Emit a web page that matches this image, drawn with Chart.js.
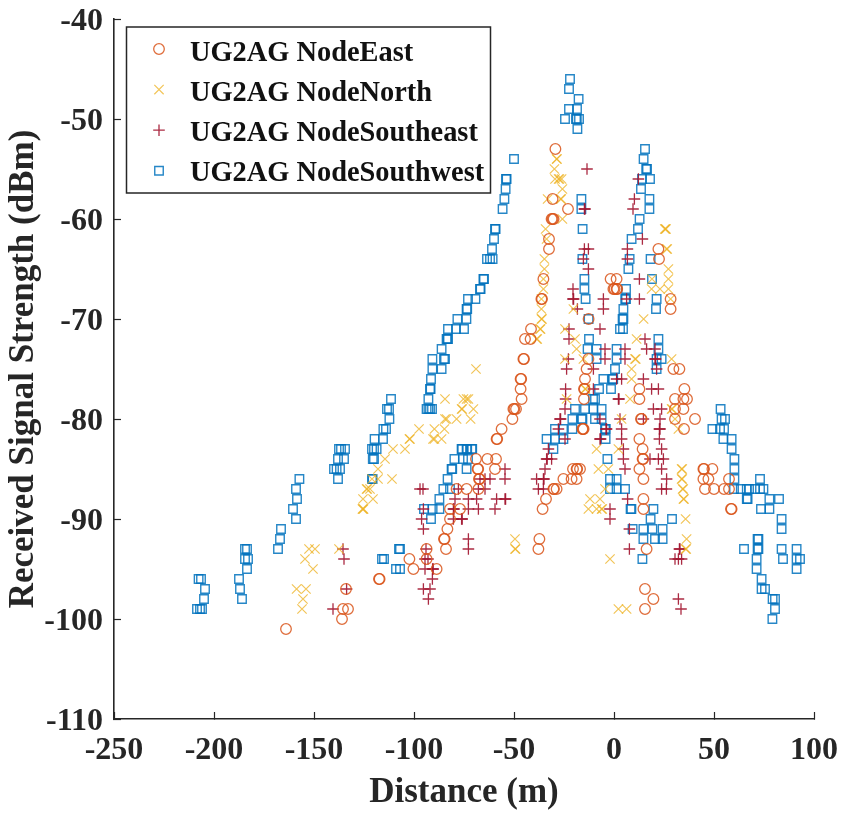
<!DOCTYPE html>
<html>
<head>
<meta charset="utf-8">
<style>
html,body{margin:0;padding:0;background:#fff;width:845px;height:815px;overflow:hidden}
canvas{display:block;filter:blur(0.35px)}
</style>
<script src="https://cdn.jsdelivr.net/npm/chart.js@4"></script>
</head>
<body>
<canvas id="c" width="845" height="815"></canvas>
<script>
const xTicks=[-250,-200,-150,-100,-50,0,50,100];
const yTicks=[-110,-100,-90,-80,-70,-60,-50,-40];
const seriesNames=["UG2AG NodeEast","UG2AG NodeNorth","UG2AG NodeSoutheast","UG2AG NodeSouthwest"];
// each row: [received signal strength, [distances]]
const nodeEast=[
[-53,[-29.3]],[-58,[-30.7]],[-59,[-23]],[-60,[-30.7,-30.2,-31.2]],[-62,[-32.5]],[-63,[-32.5,22.2]],[-64,[22.5]],
[-66,[-35.3,-1.7,1.3]],[-67,[-0.3,0.3,1.3,1.6]],[-68,[-36.3,-36,28.3]],[-69,[28.3]],[-70,[-12.7]],[-71,[-41.5]],
[-72,[-44.5,-41.7]],[-74,[-45.3,-45,-12.8]],[-75,[-13.7,29.7,32.7]],[-76,[-46.7,-46.4,-14.5]],[-77,[-46.7,-15,-14.7,12.7,35.2]],
[-78,[-46.2,-15,12.7,30.5,34.7,36.5]],[-79,[-50.3,-49.8,-49,30.5,34.7]],[-80,[-50.8,13.5,13.8,30.5,40.5]],[-81,[-56.2,-15.8,-15.5,-15.2,35]],
[-82,[-58.7,-58.4,12.7]],[-83,[14.3]],[-84,[-69,-63.3,-59,14.3,14.6]],[-85,[-68.2,-67.9,-59.5,-20.5,-18.7,-18.4,-17,12.7,44.7,45,49.2]],
[-86,[-67.5,-67.2,-25.3,-21.2,-18.7,14.7,44.7,47.2,57.5]],[-87,[-78.7,-73.7,-67.8,-30.3,-30,-28.7,45.5,50,55,57.5]],[-88,[-34,14.7]],
[-89,[-82,-77,-35.7,14.7,58.5,58.8]],[-90,[-82]],[-91,[-83.3]],[-92,[-85,-84.7,-37.3]],[-93,[-93.7,-84,-37.8,16.3]],[-94,[-102.3,-93.7]],
[-95,[-100.3,-88.7]],[-96,[-117.5,-117.2]],[-97,[-134,15.5]],[-98,[19.7]],[-99,[-135.5,-133,15.5]],[-100,[-136]],[-101,[-164]]
];
const nodeNorth=[
[-54,[-28.7,-28.5]],[-55,[-29.8]],[-56,[-29.5,-27.7,-26.2,-27.3]],[-57,[-25.8]],[-58,[-33.2,-26.7,-26.4]],[-60,[-25.8]],[-61,[-34.2,25.7,25.4,26]],
[-62,[-33.7]],[-63,[26.3,26.6]],[-64,[-34.8]],[-65,[-34.8,27.2]],[-66,[-35.3,19,27.2]],[-67,[-35.3,18.8,23,27.2]],[-68,[-36.3,28.3]],[-69,[-36.3,-20.3]],
[-70,[-36.3,-36,14.8]],[-71,[-37,-36.7,-24.5]],[-72,[-38.7,-38.4,-19.5,11.3]],[-73,[-18.7]],[-74,[-24.5,-15.3,10.5,10.9,28.8]],[-75,[-69,8.8]],[-76,[8.8]],
[-77,[-14.5,-14.2]],[-78,[-84.5,-75.3,-73.7,-72.8,-23.7,8]],[-79,[-76.2,-75.9,-70.3,28.8,29.1]],[-80,[-84.5,-83.7,-78.7,-71.7,3.8,30.5]],
[-81,[-97.5,-89.8,-84.8,32.2]],[-82,[-102.3,-102,-90.5,-89.8,-86.2]],[-83,[-110.5,-104.5,-8.7,2.2]],[-84,[-114.5]],[-85,[-118,-7.8,-2.8,33.8,34.1]],
[-86,[-121,-118,-111,33.8,34.1]],[-87,[-123.7,-123.4,-122,-4.5,34.3,34.6]],[-88,[-125.5,-120.5,-12,-7,34.7,35]],[-89,[-125.5,-125.2,-125.8,-12.8,-8.7,-6.2,-5.9]],
[-90,[35.8]],[-92,[-49.5,36.3]],[-93,[-152.5,-149.5,-137.5,-49.5,-49.2,35.8,36.1]],[-94,[-154.5,-2]],[-95,[-150.5]],[-97,[-158.7,-154]],[-98,[-155.5]],[-99,[-156,2.2,6.3]]
];
const nodeSoutheast=[
[-55,[-13.5]],[-56,[12.2]],[-58,[10.2]],[-59,[9.5,-14.8,-14.5]],[-62,[14.2]],[-63,[-14.8,-12.8,6.7]],[-64,[-15.3,6.7]],[-65,[-12.8]],[-66,[12.7]],
[-67,[-20.5]],[-68,[-20.5,-20.2,-5.3,6.3,12.7]],[-69,[-18.3,-5.3]],[-71,[-22.5,-7]],[-72,[-22.5,15.5]],[-73,[-4.5,5.5,16.3,20.5]],[-74,[-22.8,-4.5,5.5,20.5,20.8]],
[-75,[-23.7,-10.3,21.3]],[-76,[1.3,3.8,14.7]],[-77,[-24.2,-10.3,18.8,22.2]],[-78,[-24.2,2.2,2.5]],[-79,[-24.5,19.7,23.8]],[-80,[-27,-26.7,-7,3,14.7,23]],
[-81,[-27.8,-4,-3.7,3.8,22.7,23]],[-82,[-24.5,-7,-6.7,3.8,22.7]],[-83,[-32.8,4.7,23.8]],[-84,[-33.7,-33.4,-31.2,4.7,18,22.2,24.7]],[-85,[-54.5,-34.5,5.5,23.8]],
[-86,[-67,-64.5,-62,-54.5,-38.7,-35.3,-35,26.3]],[-87,[-97,-95.5,-77.8,-67.8,-64.5,-37.8,-35.3,23.8,26.2]],[-88,[-79.5,-72.8,-68.7,-58.7,-54.5,-54.2,6.8]],
[-89,[-95.3,-80.3,-80,-72.8,-67.8,-59.5,-2]],[-90,[-96.2,-80.3,-76.2,-75.9,-2]],[-91,[-95.3,7.7]],[-92,[-72.8]],[-93,[-135.5,-94,-72.8,7.7,32.7,33]],
[-94,[-135,-94.5,-93,30.5,32.2,33.8]],[-95,[-94.5,-90.7,-90.4]],[-96,[-90.8]],[-97,[-133.7,-95.3,-92]],[-98,[-92.8,32.2]],[-99,[-140.5,33.5]]
];
const nodeSouthwest=[
[-46,[-22]],[-47,[-22.5]],[-48,[-17.7]],[-49,[-22.5,-18.5]],[-50,[-24.5,-19,-18.6,-17.5]],[-51,[-18.3]],[-53,[15.5]],[-54,[-50,14.8]],[-55,[16.5,16.1]],
[-56,[-54,-53.7,14,18]],[-57,[-54.2,13.5]],[-58,[-54.8,-16.3,17.7]],[-59,[-55.7,-16.3,17.7]],[-60,[12.8]],[-61,[-59.5,-59.2,-15.7,12]],[-62,[-60,8.8]],[-63,[-61]],
[-64,[-63.5,-62,-60.7,-15.8,7.8,18.3]],[-65,[7.2]],[-66,[-65.3,-65,-14.8,19]],[-67,[-67,-66.7,-14.8,6]],[-68,[-73,-69.3,-14.2,6,5.6,21.3]],[-69,[-73.7,-73.4,4.7,21]],
[-70,[-78.3,-73.8,-12.7,4.3,4.7]],[-71,[-83,-79,-75,3,4.5]],[-72,[-83.7,-83.3,-83,-12.5,22.2]],[-73,[-86.2,-13.2,-8.7,1.3,22.2]],[-74,[-90.8,-85,-84.5,-8.7,1.3,21.3,23.8]],
[-75,[-90.8,-86.2,0.5,21.3]],[-76,[-91.5,-5.3,-0.7,-0.4]],[-77,[-92,-91.7,-7.5,-1.5]],[-78,[-111.5,-92.8,-10.5,-9.5]],
[-79,[-113.5,-112.5,-93.7,-92.8,-92,-91,-19.5,-14.5,-10.3,-6.2,53.3]],[-80,[-112.3,-20.8,-16.2,-15.8,-9.5,-6.2,53.8,55.5]],[-81,[-115.3,-114,-29.5,-25.5,-20.8,-4.5,-4.1,49.2,53,55]],
[-82,[-119.7,-115.5,-33.7,-29.5,-25.3,-4.2,54.7,58.8]],[-83,[-137.5,-136.5,-134.5,-121,-120,-118.7,-76.2,-75.9,-73.7,-73.4,-71.2,-70.9,-30.3,58.8]],
[-84,[-138,-135,-120.6,-120,-79.8,-75.5,-73,-3.3,60.2]],[-85,[-140,-138.7,-137,-81.2,-80.9,-73.7,60.2]],[-86,[-157.3,-138,-121,-120.7,-83.2,-2,1.3,60.2,73]],
[-87,[-159,-85.3,-82,-2,1.3,5.5,60,63.4,66.4,67.5,70.5,73,74.7]],[-88,[-158.5,-87.3,66.4,66.8,77.7,82.5]],[-89,[-160.5,-95,-90.7,-87.3,8.3,8.7,19.7,73.5,77.7]],
[-90,[-159,-91.5,18.3,29,83.8]],[-91,[-166.5,9.3,14.7,19.2,24.3,83.8]],[-92,[-167,14.7,20.5,24.3,71.8,72.2]],[-93,[-184.5,-183.5,-168,-107.5,-107,65,71.8,72.2,83.8,91.3]],
[-94,[-184.5,-183,-116,-115,14.2,71.3,84.5,91.3,93]],[-95,[-183.5,-109,-107,71.3,91.3]],[-96,[-207.7,-206.5,-187.5,73.8]],[-97,[-204.5,-187,73.8,75.5]],[-98,[-205,-186,79.3,80.5]],
[-99,[-208.5,-207,-206,80.5]],[-100,[79.2]]
];
const expand=rows=>rows.flatMap(([y,xs])=>xs.map(x=>({x,y})));
const serif='"Liberation Serif","Times New Roman",serif';
const ink='#262626';
const mk=(i,rows,color,style,r,w)=>({label:seriesNames[i],data:expand(rows),showLine:false,pointStyle:style,pointRadius:r,pointHoverRadius:r,pointBorderWidth:w,pointBorderColor:color,pointBackgroundColor:'transparent',borderColor:color,backgroundColor:'transparent',clip:false});
const legendBox={
  id:'legendBox',
  afterDraw(chart){
    const c=chart.ctx;
    c.save();
    c.fillStyle='#fff';c.strokeStyle=ink;c.lineWidth=1.5;
    c.fillRect(126.5,27,364,166);c.strokeRect(126.5,27,364,166);
    c.font='bold 28.4px '+serif;c.textAlign='left';c.textBaseline='middle';
    chart.data.datasets.forEach((d,i)=>{
      c.fillStyle='#111';c.fillText(d.label,190,53.5+i*40);
      c.fillStyle='rgba(0,0,0,0)';
      c.strokeStyle=d.pointBorderColor;c.lineWidth=d.pointBorderWidth;
      Chart.helpers.drawPoint(c,{pointStyle:d.pointStyle,radius:d.pointRadius,rotation:0,borderWidth:d.pointBorderWidth},159,49+i*40.6);
    });
    c.restore();
  }
};
const noPad=s=>{s.paddingLeft=s.paddingRight=s.paddingTop=s.paddingBottom=0};
const scaleOpts=(min,max,ticks,title,pad,extra)=>Object.assign({
  type:'linear',min,max,
  afterBuildTicks(a){a.ticks=ticks.map(v=>({value:v}))},
  border:{display:true,color:ink,width:1.6},
  grid:{drawOnChartArea:false,drawTicks:true,tickLength:-7,tickColor:ink,tickWidth:1.2},
  title:{display:true,text:title,color:ink,padding:pad,font:{family:serif,weight:'bold',size:35}}
},extra);
new Chart(document.getElementById('c'),{
  type:'scatter',
  data:{datasets:[
    mk(0,nodeEast,'rgba(217,83,25,0.85)','circle',5.3,1.3),
    mk(1,nodeNorth,'rgba(237,177,32,0.75)','crossRot',6.6,1.2),
    mk(2,nodeSoutheast,'rgba(162,20,47,0.9)','cross',5.8,1.3),
    mk(3,nodeSouthwest,'rgba(0,114,189,0.85)','rect',6,1.4)
  ]},
  options:{
    responsive:false,animation:false,
    layout:{padding:{left:0,top:19,right:31,bottom:0}},
    plugins:{legend:{display:false},tooltip:{enabled:false}},
    scales:{
      x:scaleOpts(-250,100,xTicks,'Distance (m)',{top:4,bottom:1},{
        position:'bottom',
        ticks:{color:ink,maxRotation:0,autoSkip:false,padding:20,font:{family:serif,weight:'bold',size:32}},
        afterFit(s){s.height=96;noPad(s)}
      }),
      y:scaleOpts(-110,-40,yTicks,'Received Signal Strength (dBm)',{top:3,bottom:4},{
        position:'left',
        ticks:{color:ink,autoSkip:false,padding:18,labelOffset:3,font:{family:serif,weight:'bold',size:32}},
        afterFit(s){s.width=114;noPad(s)}
      })
    }
  },
  plugins:[legendBox]
});
</script>
</body>
</html>
